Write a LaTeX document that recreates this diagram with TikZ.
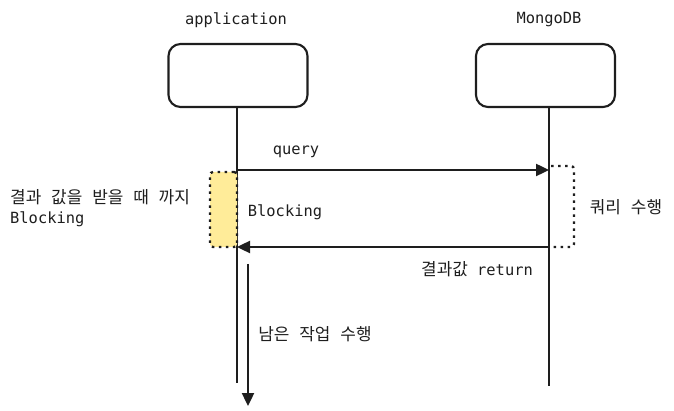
\documentclass[tikz,border=0pt]{standalone}
\usepackage{fontspec}
\setmonofont{DejaVu Sans Mono}
\newfontfamily\kr[Scale=1.1, WordSpace={2.6,0,0}]{Noto Sans CJK KR}
\usetikzlibrary{arrows.meta}
\usetikzlibrary{positioning}
\definecolor{ink}{HTML}{1E1E1E}
\definecolor{waitfill}{HTML}{FFEC99}

\begin{document}
\begin{tikzpicture} [
          x=1pt, y=-1pt,
          actor/.style = {draw=ink, line width=2.1pt, rounded corners=12pt, minimum width=139pt, minimum height=63pt},
          txt/.style = {font=\ttfamily\fontsize{15.4}{19}\selectfont, text=ink, inner sep=0pt},
          lifeline/.style = {draw=ink, line width=2.4pt},
          message/.style = {draw=ink, line width=2.4pt, -{Triangle[length=13pt,width=12pt]}},
          dots/.style = {draw=ink, line width=2.3pt, dash pattern=on 2.5pt off 4.5pt, rounded corners=3pt}
          ]
          \useasboundingbox (0,0) rectangle (674,411);
          % participants
          \node[actor] (app) at (238,75.5) {};
          \node[actor] (db) at (545.5,75.5) {};
          \node[txt] (appname) at (236,20) {application};
          \node[txt] (dbname) at (549,20) {MongoDB};
          % lifelines
          \coordinate (apptop) at (237,107);
          \coordinate (append) at (237,383);
          \coordinate (dbtop) at (549,107);
          \coordinate (dbend) at (549,386);
          \draw[lifeline] (apptop) -- (append);
          \draw[lifeline] (dbtop) -- (dbend);
          % blocking while waiting
          \node[dots, fill=waitfill, minimum width=27pt, minimum height=75pt] (wait) at (223.5,209.5) {};
          \draw[dots] (551,166) -- (574,166) -- (574,247) -- (551,247);
          % messages
          \coordinate (qfrom) at (237,170);
          \coordinate (qto) at (549,170);
          \coordinate (rfrom) at (549,247);
          \coordinate (rto) at (237,247);
          \draw[message] (qfrom) -- (qto);
          \draw[message] (rfrom) -- (rto);
          \coordinate (goon) at (248,264);
          \coordinate (goend) at (248,406);
          \draw[message] (goon) -- (goend);
          % texts
          \node[txt] (qlabel) at (296,152) {query};
          \node[txt] (blk) at (285,212) {Blocking};
          \node[txt, anchor=west, align=left] (waitnote) at (10,208) {{\kr 결과 값을 받을 때 까지}\\[1pt]Blocking};
          \node[txt] (querynote) at (626,207) {\kr 쿼리 수행};
          \node[txt] (rlabel) at (477,269) {{\kr 결과값} return};
          \node[txt] (restnote) at (315,334) {\kr 남은 작업 수행};
        \end{tikzpicture}
\end{document}
